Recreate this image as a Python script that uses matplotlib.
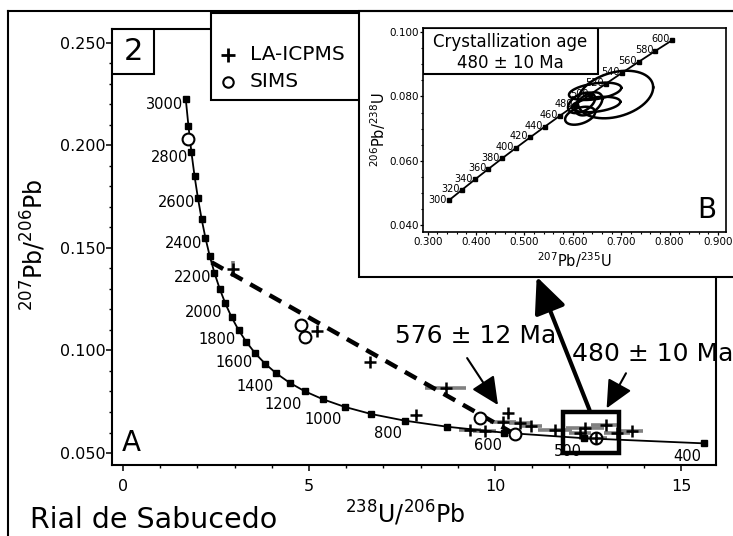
import numpy as np
import matplotlib
matplotlib.use("Agg")
import matplotlib.pyplot as plt
from matplotlib.patches import Rectangle
from matplotlib.lines import Line2D
from matplotlib.ticker import MultipleLocator, FormatStrFormatter

plt.rcParams['font.family'] = ['DejaVu Sans']
plt.rcParams['mathtext.fontset'] = 'dejavusans'

# ---- Tera-Wasserburg concordia (ticks every 100 Ma) ----
tw_ages = [400, 500, 600, 700, 800, 900, 1000, 1100, 1200, 1300, 1400, 1500,
           1600, 1700, 1800, 1900, 2000, 2100, 2200, 2300, 2400, 2500, 2600,
           2700, 2800, 2900, 3000]
tw_u238_pb206 = [15.62, 12.40, 10.25, 8.718, 7.568, 6.674, 5.959, 5.375, 4.888,
                 4.476, 4.123, 3.817, 3.550, 3.314, 3.105, 2.917, 2.749, 2.597,
                 2.459, 2.332, 2.217, 2.111, 2.013, 1.922, 1.838, 1.760, 1.687]
tw_pb207_pb206 = [0.0547, 0.0572, 0.0599, 0.0628, 0.0658, 0.0690, 0.0725, 0.0762,
                  0.0801, 0.0843, 0.0888, 0.0936, 0.0987, 0.1042, 0.1100, 0.1163,
                  0.1230, 0.1302, 0.1378, 0.1460, 0.1548, 0.1643, 0.1744, 0.1852,
                  0.1968, 0.2093, 0.2226]
tw_labelled = [400, 500, 600, 800, 1000, 1200, 1400, 1600, 1800, 2000, 2200,
               2400, 2600, 2800, 3000]

# ---- LA-ICPMS analyses ----
la_x = [2.97, 5.21, 6.63, 7.88, 8.67, 9.32, 9.72, 10.36, 10.22, 10.67, 10.96,
        11.61, 12.28, 12.42, 12.97, 12.72, 13.27, 13.68]
la_y = [0.1396, 0.1095, 0.0942, 0.0684, 0.0816, 0.0614, 0.0608, 0.0694, 0.0653,
        0.0645, 0.0630, 0.0610, 0.0596, 0.0622, 0.0635, 0.0572, 0.0598, 0.0605]
la_xerr = [0.0, 0.0, 0.0, 0.0, 0.56, 0.30, 0.30, 0.0, 0.35, 0.30, 0.30,
           0.45, 0.30, 0.50, 0.40, 0.30, 0.35, 0.30]
la_yerr = [0.004, 0, 0, 0, 0, 0, 0, 0, 0, 0, 0, 0, 0, 0, 0, 0, 0, 0]

# ---- SIMS analyses ----
sims_x = [1.755, 4.78, 4.89, 9.60, 10.54, 12.72]
sims_y = [0.2030, 0.1125, 0.1068, 0.0670, 0.0592, 0.0572]

# ---- discordia through the inherited population ----
discordia_x = [2.38, 10.55]
discordia_y = [0.1430, 0.0590]

# ---- Wetherill concordia for panel B (ticks every 20 Ma) ----
we_ages = [300, 320, 340, 360, 380, 400, 420, 440, 460, 480, 500, 520, 540,
           560, 580, 600]
we_pb207_u235 = [0.3437, 0.3705, 0.3977, 0.4255, 0.4539, 0.4828, 0.5123, 0.5424,
                 0.5731, 0.6043, 0.6363, 0.6688, 0.7020, 0.7359, 0.7704, 0.8056]
we_pb206_u238 = [0.04764, 0.05089, 0.05416, 0.05743, 0.06072, 0.06402, 0.06732,
                 0.07064, 0.07397, 0.07730, 0.08065, 0.08401, 0.08738, 0.09076,
                 0.09415, 0.09754]

# ---- 2-sigma error ellipses of the young population ----
ell_x = [0.688, 0.646, 0.648, 0.615, 0.618, 0.633]
ell_y = [0.0806, 0.0816, 0.0775, 0.0740, 0.0780, 0.0777]
ell_sx = [0.078, 0.054, 0.050, 0.031, 0.028, 0.028]
ell_sy = [0.0074, 0.0027, 0.0024, 0.0028, 0.0032, 0.0036]
ell_rho = [0.30, 0.40, 0.35, 0.40, 0.45, 0.45]

W, H = 733, 536
fig = plt.figure(figsize=(W / 100, H / 100), dpi=100)


def fx(px):
    return px / W


def fy(py):
    return 1 - py / H


# ================= main panel A =================
ax = fig.add_axes([fx(112), fy(465), fx(716) - fx(112), fy(29) - fy(465)])
ax.set_xlim(-0.296, 15.94)
ax.set_ylim(0.04415, 0.2568)
for s in ax.spines.values():
    s.set_linewidth(1.5)
ax.set_xticks([0, 5, 10, 15])
ax.xaxis.set_minor_locator(MultipleLocator(1))
ax.yaxis.set_major_locator(MultipleLocator(0.05))
ax.yaxis.set_minor_locator(MultipleLocator(0.01))
ax.yaxis.set_major_formatter(FormatStrFormatter('%.3f'))
ax.tick_params(which='major', direction='out', length=4, width=1.1,
               labelsize=11.5)
ax.tick_params(axis='y', which='major', pad=0.5)
ax.tick_params(axis='x', which='major', pad=6)
ax.tick_params(which='minor', direction='out', length=2.2, width=1.0)

ax.set_xlabel(r'$^{238}$U/$^{206}$Pb', fontsize=17)
ax.xaxis.set_label_coords(0.486, -0.078)
ax.set_ylabel(r'$^{207}$Pb/$^{206}$Pb', fontsize=17)
ax.yaxis.set_label_coords(-0.105, 0.505)

# concordia curve
ax.plot(tw_u238_pb206, tw_pb207_pb206, color='black', lw=1.3, marker='s',
        ms=4.5, zorder=3)
for age, xv, yv in zip(tw_ages, tw_u238_pb206, tw_pb207_pb206):
    if age not in tw_labelled:
        continue
    if age >= 2200:
        dy = -3.6
    elif age >= 1600:
        dy = -6.5
    else:
        dy = -9.4
    ax.annotate(str(age), (xv, yv), xytext=(-2, dy), textcoords='offset points',
                ha='right', va='center', fontsize=10.5, zorder=4)

# discordia
ax.plot(discordia_x, discordia_y, color='black', lw=3.2,
        linestyle=(0, (3, 2)), solid_capstyle='butt', zorder=4)

# error bars and symbols
ax.errorbar(la_x, la_y, xerr=la_xerr, yerr=la_yerr, fmt='none', ecolor='0.5',
            elinewidth=2.6, capsize=0, zorder=2)
ax.plot(sims_x, sims_y, 'o', ms=8.5, mfc='white', mec='black', mew=1.5,
        zorder=5)
ax.plot(la_x, la_y, '+', ms=9, mew=1.8, color='black', zorder=6)

# ages and arrows
ax.text(9.49, 0.1071, '576 ± 12 Ma', fontsize=18, ha='center', va='center',
        zorder=7)
ax.text(12.07, 0.0983, '480 ± 10 Ma', fontsize=18, ha='left', va='center',
        zorder=7)
small_head = '-|>,head_length=0.95,head_width=0.45'
ax.annotate('', xy=(10.08, 0.0734), xytext=(9.25, 0.0963),
            arrowprops=dict(arrowstyle=small_head, mutation_scale=18, lw=1.5,
                            fc='black', ec='black', shrinkA=0, shrinkB=0),
            zorder=7)
ax.annotate('', xy=(13.0, 0.0718), xytext=(13.52, 0.0889),
            arrowprops=dict(arrowstyle=small_head, mutation_scale=18, lw=1.5,
                            fc='black', ec='black', shrinkA=0, shrinkB=0),
            zorder=7)
ax.annotate('', xy=(11.12, 0.1360), xytext=(12.54, 0.0710),
            arrowprops=dict(arrowstyle='-|>,head_length=1.0,head_width=0.45',
                            mutation_scale=22, lw=3.0, fc='black', ec='black',
                            shrinkA=0, shrinkB=0),
            zorder=7)
ax.add_patch(Rectangle((11.84, 0.0500), 1.50, 0.0201, fill=False,
                       ec='black', lw=3.2, zorder=8))

# panel number, legend, panel letter
ax.add_patch(Rectangle((0, 0.8968), 0.0695, 0.1032, transform=ax.transAxes,
                       fc='white', ec='black', lw=1.5, zorder=9))
ax.text(0.035, 0.949, '2', transform=ax.transAxes, fontsize=22, ha='center',
        va='center', zorder=10)
ax.add_patch(Rectangle((0.1634, 0.837), 0.5, 0.2, transform=ax.transAxes,
                       fc='white', ec='black', lw=1.5, zorder=9, clip_on=False))
ax.plot([0.192], [0.9404], '+', transform=ax.transAxes, ms=10, mew=2,
        color='black', zorder=10)
ax.text(0.2285, 0.9404, 'LA-ICPMS', transform=ax.transAxes, fontsize=14.5,
        va='center', zorder=10)
ax.plot([0.192], [0.879], 'o', transform=ax.transAxes, ms=7.5, mfc='white',
        mec='black', mew=1.5, zorder=10)
ax.text(0.2285, 0.879, 'SIMS', transform=ax.transAxes, fontsize=14.5,
        va='center', zorder=10)
ax.text(0.0326, 0.0505, 'A', transform=ax.transAxes, fontsize=20,
        ha='center', va='center', zorder=10)

# ================= frame around panel B =================
frame = fig.add_axes([fx(359), fy(277), 1.05 - fx(359), fy(11) - fy(277)])
frame.axis('off')
frame.add_patch(Rectangle((0, 0), 1, 1, transform=frame.transAxes,
                          fc='white', ec='black', lw=1.5, clip_on=False))

# ================= panel B (Wetherill concordia) =================
ins = fig.add_axes([fx(422.7), fy(231.7), fx(725.7) - fx(422.7),
                    fy(27.7) - fy(231.7)])
ins.set_xlim(0.2897, 0.9159)
ins.set_ylim(0.0379, 0.1014)
for s in ins.spines.values():
    s.set_linewidth(1.2)
ins.xaxis.set_major_locator(MultipleLocator(0.1))
ins.xaxis.set_minor_locator(MultipleLocator(0.02))
ins.yaxis.set_major_locator(MultipleLocator(0.02))
ins.yaxis.set_minor_locator(MultipleLocator(0.005))
ins.xaxis.set_major_formatter(FormatStrFormatter('%.3f'))
ins.yaxis.set_major_formatter(FormatStrFormatter('%.3f'))
ins.tick_params(which='major', direction='out', length=2.5, width=0.9,
                labelsize=7.5, pad=1.5)
ins.tick_params(axis='y', which='major', pad=0.3)
ins.tick_params(which='minor', direction='out', length=1.4, width=0.8)
ins.set_xlabel(r'$^{207}$Pb/$^{235}$U', fontsize=10.5, labelpad=2)
ins.set_ylabel(r'$^{206}$Pb/$^{238}$U', fontsize=10.5, labelpad=1)

ins.plot(we_pb207_u235, we_pb206_u238, color='black', lw=1.3, marker='s',
         ms=3, zorder=3)
for age, xv, yv in zip(we_ages, we_pb207_u235, we_pb206_u238):
    ins.annotate(str(age), (xv, yv), xytext=(-1.5, 0.5),
                 textcoords='offset points', ha='right', va='center',
                 fontsize=7, zorder=4)

t = np.linspace(0, 2 * np.pi, 200)
for cx, cy, sx, sy, r in zip(ell_x, ell_y, ell_sx, ell_sy, ell_rho):
    cov = np.array([[sx * sx, r * sx * sy], [r * sx * sy, sy * sy]])
    L = np.linalg.cholesky(cov)
    pts = L @ np.vstack([np.cos(t), np.sin(t)])
    ins.plot(cx + pts[0], cy + pts[1], color='black', lw=1.8, zorder=5)

ins.add_patch(Rectangle((0.002, 0.773), 0.5756, 0.227, transform=ins.transAxes,
                        fc='white', ec='black', lw=1.5, zorder=8))
ins.text(0.288, 0.931, 'Crystallization age', transform=ins.transAxes,
         fontsize=12, ha='center', va='center', zorder=9)
ins.text(0.288, 0.8255, '480 ± 10 Ma', transform=ins.transAxes,
         fontsize=12, ha='center', va='center', zorder=9)
ins.text(0.937, 0.106, 'B', transform=ins.transAxes, fontsize=20,
         ha='center', va='center', zorder=9)

# ================= figure-level border and title =================
fig.add_artist(Line2D([fx(8), 1.0], [fy(11), fy(11)], transform=fig.transFigure,
                      color='black', lw=1.5))
fig.add_artist(Line2D([fx(8), fx(8)], [0.0, fy(11)], transform=fig.transFigure,
                      color='black', lw=1.5))
fig.text(fx(30), fy(528), 'Rial de Sabucedo', fontsize=20.5, ha='left',
         va='baseline')

fig.savefig('out.png', dpi=100)
